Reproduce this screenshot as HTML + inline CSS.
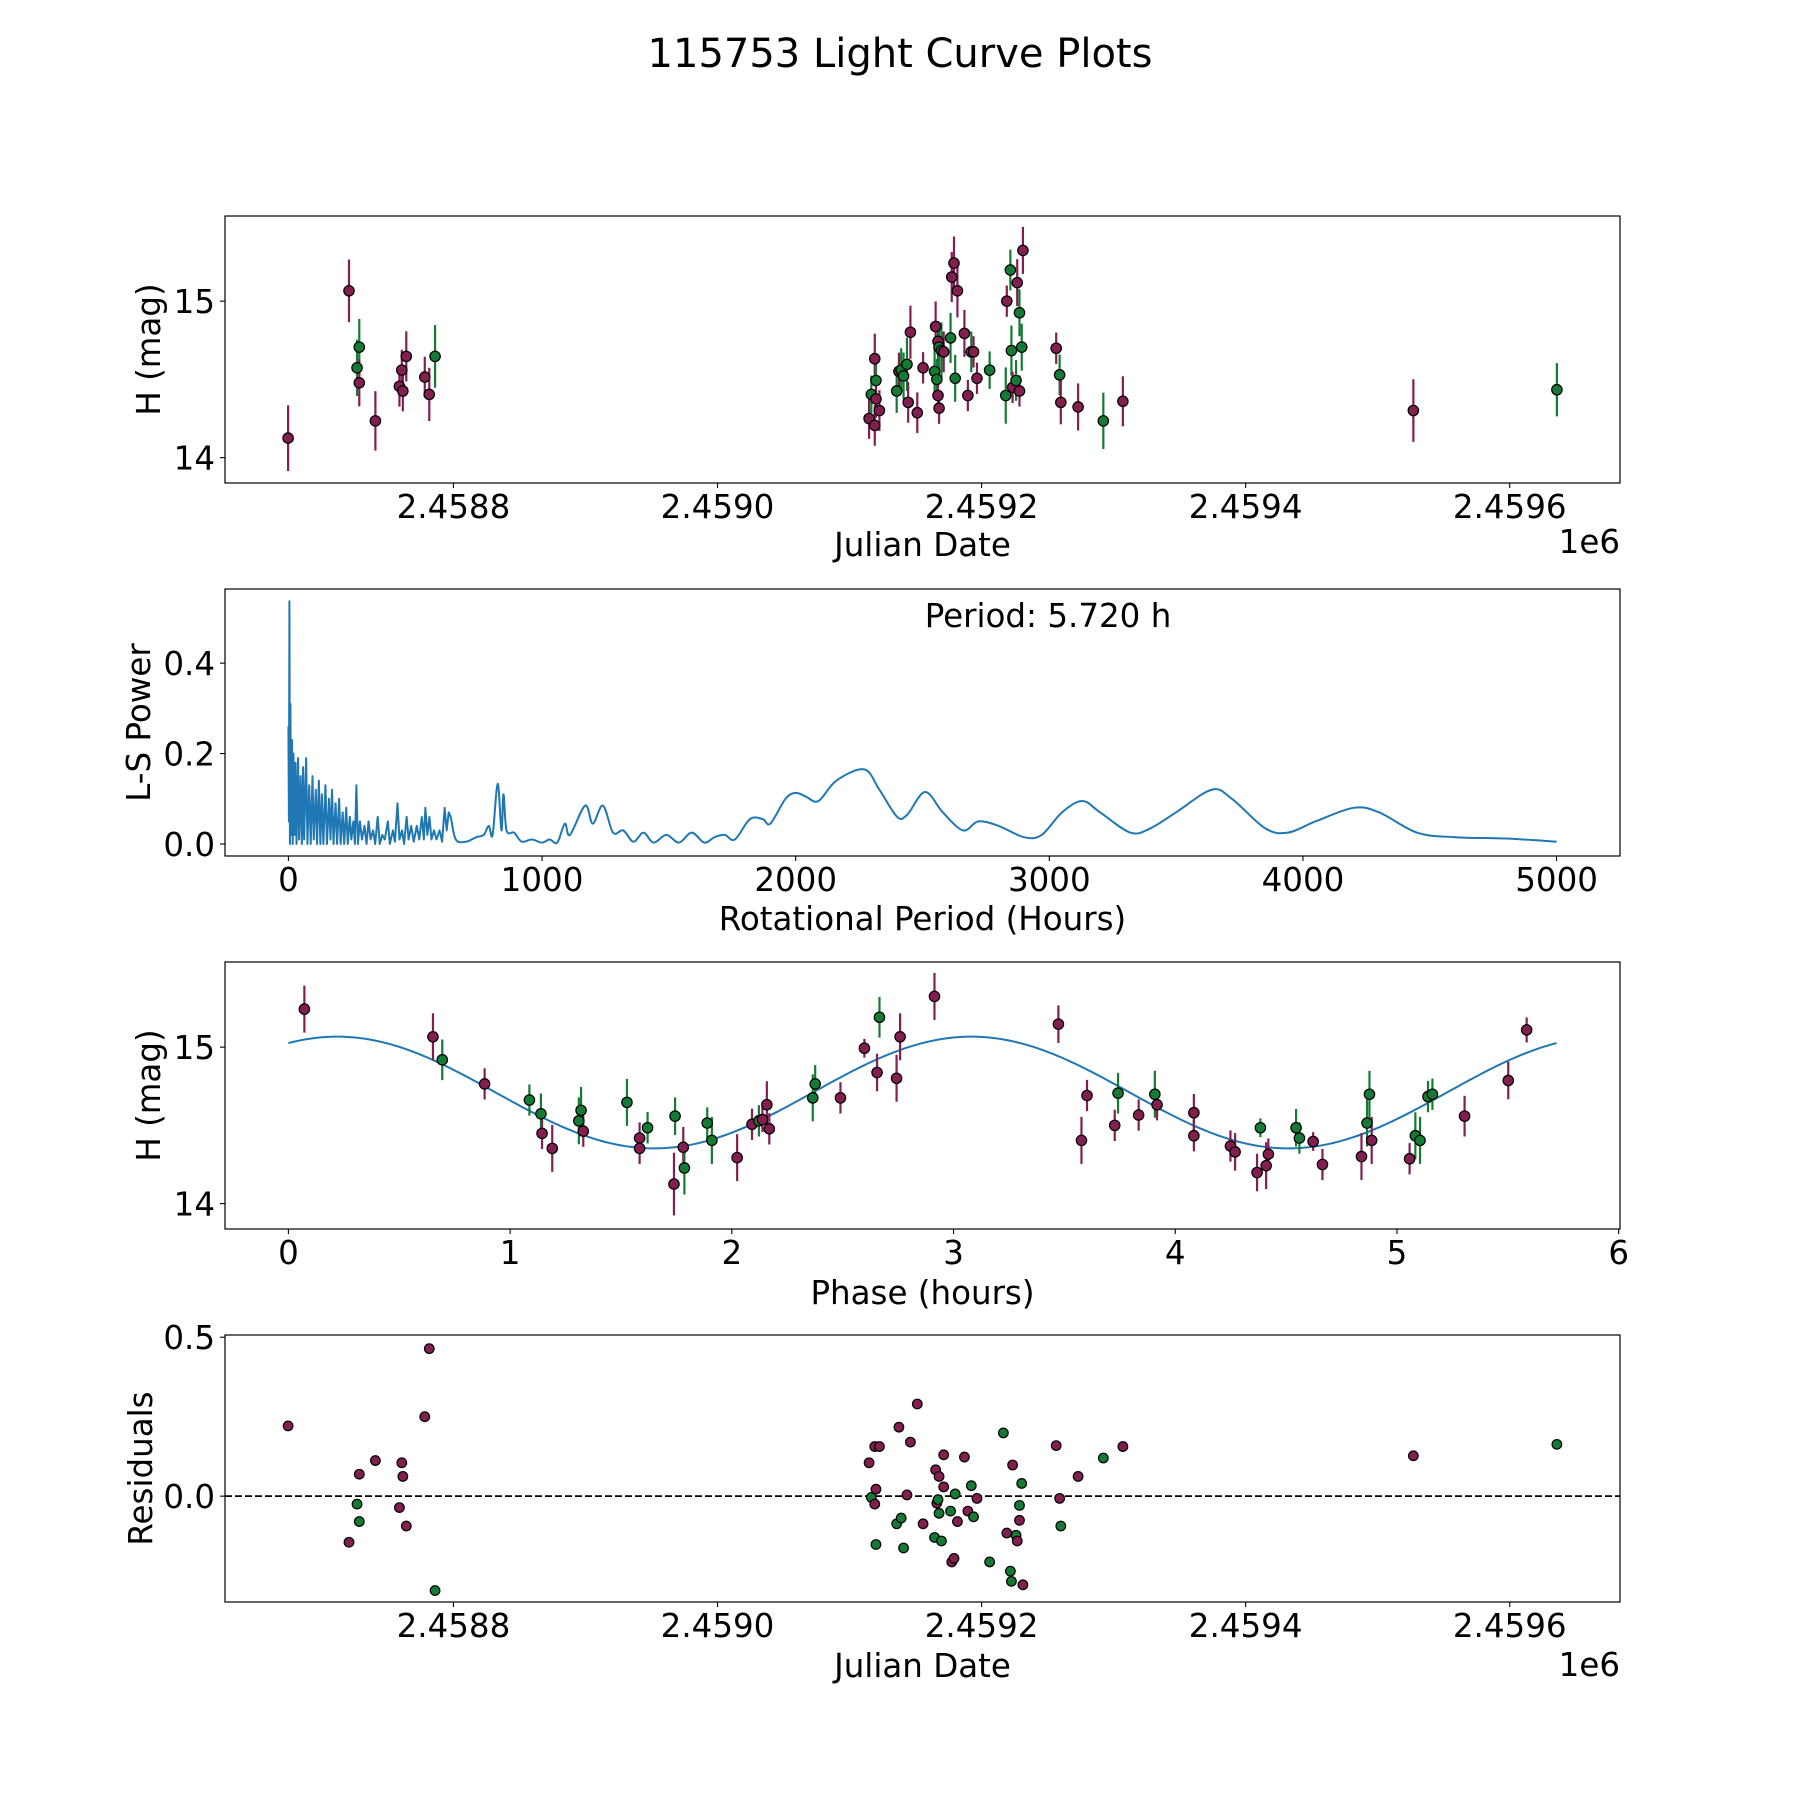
<!DOCTYPE html>
<html><head><meta charset="utf-8"><title>115753 Light Curve Plots</title>
<style>
html,body{margin:0;padding:0;background:#fff;}
svg{display:block;font-family:"DejaVu Sans","Liberation Sans",sans-serif;}
</style></head>
<body>
<svg id="fig" width="1800" height="1800" viewBox="0 0 1800 1800" xmlns="http://www.w3.org/2000/svg">
<rect x="0" y="0" width="1800" height="1800" fill="#fff"/>
<text x="900" y="67" font-size="40" text-anchor="middle">115753 Light Curve Plots</text>
</svg>
<script>
// ---------- Data: light curve (JD offset from 2458000) ----------
const lcDays = [674.8,720.9,727.0,728.7,728.7,740.9,759.1,760.9,761.7,764.3,778.3,781.7,786.1,
1114.8,1116.5,1119.1,1120.0,1120.0,1119.1,1122.6,1135.7,1137.4,1139.1,1140.9,1143.5,1144.4,1146.1,1151.3,1155.7,
1164.4,1165.2,1166.1,1167.0,1167.0,1167.8,1167.8,1169.6,1171.3,1176.5,1177.4,1179.1,1180.0,1181.7,1187.0,1189.6,
1192.2,1193.9,1196.5,1206.1,1218.3,1219.1,1221.8,1222.6,1223.5,1226.1,1227.0,1228.7,1228.7,1230.4,1231.3,
1256.5,1259.1,1260.0,1273.1,1292.2,1307.0,1527.0,1635.7];
const lcMag = [14.125,15.066,14.574,14.706,14.478,14.235,14.456,14.559,14.426,14.647,14.515,14.404,14.647,
14.25,14.404,14.632,14.493,14.375,14.206,14.301,14.426,14.551,14.559,14.522,14.596,14.353,14.801,14.287,14.574,
14.551,14.838,14.5,14.397,14.743,14.316,14.706,14.684,14.676,14.765,15.154,15.243,14.507,15.066,14.794,14.397,
14.676,14.676,14.507,14.559,14.397,15.0,15.199,14.684,14.449,14.493,15.118,14.926,14.426,14.706,15.324,
14.699,14.529,14.353,14.324,14.235,14.360,14.301,14.434];
const lcErr = [0.21,0.2,0.18,0.18,0.15,0.19,0.13,0.13,0.13,0.16,0.13,0.17,0.2,
0.13,0.12,0.16,0.12,0.12,0.13,0.13,0.14,0.12,0.14,0.15,0.17,0.13,0.17,0.13,0.1,
0.17,0.16,0.13,0.1,0.13,0.1,0.14,0.18,0.13,0.16,0.16,0.17,0.15,0.17,0.15,0.1,
0.13,0.1,0.1,0.12,0.18,0.1,0.13,0.16,0.1,0.13,0.15,0.15,0.1,0.15,0.15,
0.1,0.13,0.14,0.15,0.18,0.16,0.2,0.17];
const lcBand = "mmggmmmmmmmmg"+"mgmgmmmgmggg"+"mmmmgmgmmmgg"+"mgmmgmmmgmmg"+"gmggmgmgmgmm"+"gmmgm"+"mg";

// ---------- Data: periodogram ----------
const perHours = [0,2,4,6,8,10,14,17,20,24,28,32,38,42,48,53,58,62,70,75,82,88,95,100,108,113,120,126,132,138,146,152,160,166,172,178,186,192,200,206,214,220,228,234,242,248,256,262,268,274,282,290,300,308,316,324,334,342,352,360,370,380,392,400,412,420,430,438,448,456,466,474,484,494,506,516,526,534,540,548,556,564,574,584,596,606,616,624,632,
640,660,700,740,770,790,805,825,840,848,860,890,920,960,1000,1030,1060,1090,1110,1170,1200,1240,1280,1320,1360,1400,1440,1490,1540,1590,1640,1680,1720,1760,1820,1870,1900,1960,2000,2040,2090,2160,2270,2330,2400,2440,2510,2580,2660,2720,2800,2900,2970,3050,3130,3200,3320,3400,3500,3640,3720,3850,3940,4050,4200,4300,4450,4600,4800,5000];
const perPower = [0.26,0.05,0.537,0.0,0.31,0.02,0.23,0.0,0.2,0.02,0.18,0.0,0.19,0.01,0.15,0.0,0.17,0.01,0.19,0.0,0.13,0.0,0.15,0.01,0.12,0.0,0.14,0.0,0.11,0.0,0.13,0.0,0.1,0.01,0.12,0.0,0.09,0.0,0.1,0.0,0.07,0.0,0.08,0.0,0.06,0.01,0.05,0.0,0.13,0.0,0.05,0.01,0.04,0.0,0.05,0.01,0.03,0.0,0.06,0.0,0.02,0.01,0.05,0.0,0.03,0.005,0.09,0.01,0.03,0.0,0.06,0.01,0.04,0.005,0.04,0.01,0.06,0.01,0.08,0.02,0.06,0.01,0.03,0.01,0.03,0.005,0.08,0.03,0.07,
0.06,0.01,0.005,0.015,0.02,0.04,0.02,0.133,0.03,0.11,0.03,0.025,0.005,0.01,0.003,0.01,0.003,0.045,0.02,0.085,0.045,0.085,0.025,0.03,0.005,0.025,0.003,0.02,0.003,0.025,0.003,0.015,0.02,0.01,0.055,0.055,0.045,0.10,0.113,0.105,0.095,0.14,0.165,0.12,0.06,0.065,0.115,0.07,0.03,0.05,0.04,0.015,0.02,0.07,0.095,0.07,0.025,0.035,0.07,0.12,0.1,0.035,0.025,0.05,0.08,0.07,0.025,0.015,0.012,0.005];
const bestPeriodLabel = "Period: 5.720 h";

// ---------- Data: phased light curve ----------
const phHours = [0.072,0.652,0.694,0.885,1.087,1.139,1.144,1.190,1.310,1.320,1.330,1.527,1.584,1.584,1.620,1.739,1.744,1.781,1.786,1.910,1.889,2.024,2.091,2.122,2.138,2.158,2.169,2.365,2.376,2.490,2.598,2.655,2.666,2.743,2.759,2.914,3.473,3.577,3.602,3.727,3.742,3.835,3.908,3.918,4.084,4.084,4.249,4.270,4.369,4.384,4.410,4.420,4.545,4.560,4.622,4.664,4.840,4.865,4.876,4.886,5.057,5.083,5.104,5.140,5.160,5.305,5.502,5.585];
const phMag = [15.243,15.066,14.919,14.765,14.662,14.574,14.449,14.353,14.529,14.596,14.463,14.647,14.353,14.419,14.485,14.125,14.559,14.360,14.228,14.404,14.515,14.294,14.507,14.529,14.537,14.632,14.478,14.676,14.765,14.676,14.993,14.838,15.191,14.801,15.066,15.324,15.147,14.404,14.691,14.5,14.706,14.566,14.699,14.632,14.581,14.434,14.368,14.331,14.199,14.485,14.243,14.316,14.485,14.419,14.397,14.25,14.301,14.515,14.699,14.404,14.287,14.434,14.404,14.684,14.699,14.559,14.787,15.110];
const phErr = [0.15,0.15,0.13,0.1,0.1,0.13,0.1,0.15,0.15,0.15,0.1,0.15,0.1,0.1,0.1,0.2,0.12,0.13,0.17,0.15,0.1,0.15,0.1,0.1,0.08,0.15,0.1,0.15,0.12,0.1,0.06,0.12,0.13,0.15,0.15,0.15,0.12,0.15,0.1,0.1,0.13,0.1,0.15,0.1,0.12,0.1,0.1,0.12,0.12,0.06,0.15,0.1,0.12,0.1,0.06,0.1,0.15,0.15,0.15,0.15,0.1,0.15,0.15,0.1,0.1,0.13,0.12,0.08];
const phBand = "mmgmggmmgg"+"mgmmgmgmgg"+"gmmgmmmggm"+"mmgmmmmmmm"+"gmgmmmmmmg"+"mmggmmmggm"+"mggggmmm";
// sinusoid fit parameters: [mean, amplitude, peak phase, half-period]
const fitParams = [14.71, 0.357, 0.22, 2.86];
const fitMaxPhase = 5.72;

// ---------- Data: residuals ----------
const resDays = [674.8,720.9,727.0,728.7,728.7,740.9,759.1,760.9,761.7,764.3,778.3,781.7,786.1,
1114.8,1116.5,1119.1,1120.0,1120.0,1119.1,1122.6,1135.7,1137.4,1139.1,1140.9,1143.5,1146.1,1151.3,1155.7,1164.4,1165.2,1166.1,1167.0,1167.8,1167.8,1169.6,1171.3,1171.3,1176.5,1177.4,1179.1,1180.0,1181.7,1187.0,1189.6,1192.2,1193.9,1196.5,1206.1,1216.5,1219.1,1221.8,1222.6,1223.5,1226.1,1227.0,1228.7,1228.7,1230.4,1231.3,1256.5,1259.1,1260.0,1273.1,1292.2,1307.0,1527.0,1635.7];
const resVal = [0.221,-0.145,-0.025,-0.080,0.069,0.112,-0.036,0.105,0.062,-0.094,0.25,0.464,-0.297,
0.105,-0.004,-0.025,-0.152,0.022,0.156,0.156,-0.087,0.217,-0.069,-0.163,0.004,0.17,0.29,-0.087,-0.13,0.083,-0.022,-0.011,0.062,-0.054,-0.141,0.029,0.13,-0.047,-0.207,-0.196,0.007,-0.08,0.123,-0.047,0.033,-0.065,-0.007,-0.207,0.199,-0.116,-0.236,-0.268,0.098,-0.123,-0.141,-0.029,-0.076,0.04,-0.279,0.159,-0.007,-0.094,0.062,0.12,0.156,0.127,0.163];
const resBand = "mmggmmmmmmmmg"+"mgmgmmmgmggm"+"mmmgmmgmggmm"+"gmmgmmmggmgg"+"mggmgmgmgmmm"+"gmgm"+"mg";

// ---------- Tick labels ----------
const jdTicks = [800,1000,1200,1400,1600];
const jdTickLabels = ["2.4588","2.4590","2.4592","2.4594","2.4596"];
const magTicks = [14,15];
const magTickLabels = ["14","15"];
const perTicks = [0,1000,2000,3000,4000,5000];
const powTicks = [0.0,0.2,0.4];
const powTickLabels = ["0.0","0.2","0.4"];
const phTicks = [0,1,2,3,4,5,6];
const resTicks = [0.0,0.5];
const resTickLabels = ["0.0","0.5"];

// ---------- Rendering ----------
const NS = "http://www.w3.org/2000/svg";
const svg = document.getElementById('fig');
const COL = {m:"#831e50", g:"#157a33"};
const L = 225, R = 1620, H = 267;
const FS = 32.5;
const tops = [216, 589, 962, 1335];
const JD_MIN = 627, JD_MAX = 1683.5;
function el(tag, attrs, parent){
  const e = document.createElementNS(NS, tag);
  for (const k in attrs) e.setAttribute(k, attrs[k]);
  (parent||svg).appendChild(e);
  return e;
}
function lin(d0,d1,r0,r1){ return v => r0 + (v-d0)/(d1-d0)*(r1-r0); }

function axesFrame(name){
  const g = el('g', {});
  
  
  return g;
}
function drawFrame(g, top){
  const r = el('rect', {x:L, y:top, width:R-L, height:H, fill:'none', stroke:'#000', 'stroke-width':1.2}, g);
  
  
}
function xTicks(g, top, sx, vals, labels, name){
  vals.forEach((v,k)=>{
    const x = sx(v);
    el('line', {x1:x, x2:x, y1:top+H, y2:top+H+5, stroke:'#000', 'stroke-width':1.1}, g);
    const t = el('text', {x:x, y:top+H+35, 'font-size':FS, 'text-anchor':'middle'}, g);
    t.textContent = labels[k];
    
    
  });
}
function yTicks(g, top, sy, vals, labels, name){
  vals.forEach((v,k)=>{
    const y = sy(v);
    el('line', {x1:L-5, x2:L, y1:y, y2:y, stroke:'#000', 'stroke-width':1.1}, g);
    const t = el('text', {x:L-10, y:y+12, 'font-size':FS, 'text-anchor':'end'}, g);
    t.textContent = labels[k];
    
    
  });
}
function label(g, txt, x, y, rot, name, anchor){
  const t = el('text', {x:x, y:y, 'font-size':FS, 'text-anchor':anchor||'middle', transform: rot ? `rotate(-90 ${x} ${y})` : ''}, g);
  t.textContent = txt;
  
  
}
function errPoints(g, xs, ys, es, bands, sx, sy, name){
  xs.forEach((xv,k)=>{
    const c = COL[bands[k]] || COL.m;
    const x = sx(xv);
    const ln = el('line', {x1:x, x2:x, y1:sy(ys[k]-es[k]), y2:sy(ys[k]+es[k]), stroke:c, 'stroke-width':2.2}, g);
    
    
  });
  xs.forEach((xv,k)=>{
    const c = COL[bands[k]] || COL.m;
    const p = el('circle', {cx:sx(xv), cy:sy(ys[k]), r:5.2, fill:c, stroke:'#000', 'stroke-width':1.2}, g);
    
    
  });
}

// Panel 1: light curve
(function(){
  const top = tops[0];
  const g = axesFrame('light-curve-panel');
  const sx = lin(JD_MIN, JD_MAX, L, R), sy = lin(13.838, 15.544, top+H, top);
  errPoints(g, lcDays, lcMag, lcErr, lcBand, sx, sy, 'light-curve');
  drawFrame(g, top);
  xTicks(g, top, sx, jdTicks, jdTickLabels, 'x-tick-label');
  yTicks(g, top, sy, magTicks, magTickLabels, 'y-tick-label');
  label(g, 'Julian Date', (L+R)/2, 556, false, 'x-axis-title');
  label(g, '1e6', R, 553, false, 'x-offset-label', 'end');
  label(g, 'H (mag)', 160, top+H/2, true, 'y-axis-title');
})();

// Panel 2: periodogram
(function(){
  const top = tops[1];
  const g = axesFrame('periodogram-panel');
  const sx = lin(-250, 5250, L, R), sy = lin(-0.0266, 0.564, top+H, top);
  const P = perHours.map((h,k)=>[sx(h), sy(perPower[k])]);
  let d = 'M'+P[0][0].toFixed(2)+','+P[0][1].toFixed(2);
  for (let k=1;k<P.length;k++){
    if (perHours[k] <= 640){
      d += 'L'+P[k][0].toFixed(2)+','+P[k][1].toFixed(2);
    } else {
      const p0 = P[k-2]||P[k-1], p1 = P[k-1], p2 = P[k], p3 = P[k+1]||P[k];
      const c1x = p1[0]+(p2[0]-p0[0])/6, c1y = p1[1]+(p2[1]-p0[1])/6;
      const c2x = p2[0]-(p3[0]-p1[0])/6, c2y = p2[1]-(p3[1]-p1[1])/6;
      d += 'C'+c1x.toFixed(2)+','+c1y.toFixed(2)+' '+c2x.toFixed(2)+','+c2y.toFixed(2)+' '+p2[0].toFixed(2)+','+p2[1].toFixed(2);
    }
  }
  const p = el('path', {d:d, fill:'none', stroke:'#1f77b4', 'stroke-width':2, 'stroke-linejoin':'round'}, g);
  
  
  drawFrame(g, top);
  xTicks(g, top, sx, perTicks, perTicks.map(String), 'x-tick-label');
  yTicks(g, top, sy, powTicks, powTickLabels, 'y-tick-label');
  label(g, 'Rotational Period (Hours)', (L+R)/2, 930, false, 'x-axis-title');
  label(g, 'L-S Power', 150, top+H/2, true, 'y-axis-title');
  label(g, bestPeriodLabel, 1048, 627, false, 'period-annotation');
})();

// Panel 3: phased light curve
(function(){
  const top = tops[2];
  const g = axesFrame('phase-panel');
  const sx = lin(-0.286, 6.006, L, R), sy = lin(13.838, 15.544, top+H, top);
  const pts = [];
  const N = 300;
  for (let i=0;i<=N;i++){
    const ph = fitMaxPhase*i/N;
    const v = fitParams[0] + fitParams[1]*Math.cos(2*Math.PI*(ph-fitParams[2])/fitParams[3]);
    pts.push((i?'L':'M')+sx(ph).toFixed(2)+','+sy(v).toFixed(2));
  }
  const p = el('path', {d:pts.join(''), fill:'none', stroke:'#1f77b4', 'stroke-width':2}, g);
  
  
  errPoints(g, phHours, phMag, phErr, phBand, sx, sy, 'phase');
  drawFrame(g, top);
  xTicks(g, top, sx, phTicks, phTicks.map(String), 'x-tick-label');
  yTicks(g, top, sy, magTicks, magTickLabels, 'y-tick-label');
  label(g, 'Phase (hours)', (L+R)/2, 1304, false, 'x-axis-title');
  label(g, 'H (mag)', 160, top+H/2, true, 'y-axis-title');
})();

// Panel 4: residuals
(function(){
  const top = tops[3];
  const g = axesFrame('residuals-panel');
  const sx = lin(JD_MIN, JD_MAX, L, R), sy = lin(-0.333, 0.507, top+H, top);
  const z = el('line', {x1:L, x2:R, y1:sy(0), y2:sy(0), stroke:'#000', 'stroke-width':1.8, 'stroke-dasharray':'7,3'}, g);
  
  
  resDays.forEach((dv,k)=>{
    const c = COL[resBand[k]] || COL.m;
    const p = el('circle', {cx:sx(dv), cy:sy(resVal[k]), r:4.8, fill:c, stroke:'#000', 'stroke-width':1.2}, g);
    
    
  });
  drawFrame(g, top);
  xTicks(g, top, sx, jdTicks, jdTickLabels, 'x-tick-label');
  yTicks(g, top, sy, resTicks, resTickLabels, 'y-tick-label');
  label(g, 'Julian Date', (L+R)/2, 1677, false, 'x-axis-title');
  label(g, '1e6', R, 1676, false, 'x-offset-label', 'end');
  label(g, 'Residuals', 152, top+H/2, true, 'y-axis-title');
})();
</script>
</body></html>
